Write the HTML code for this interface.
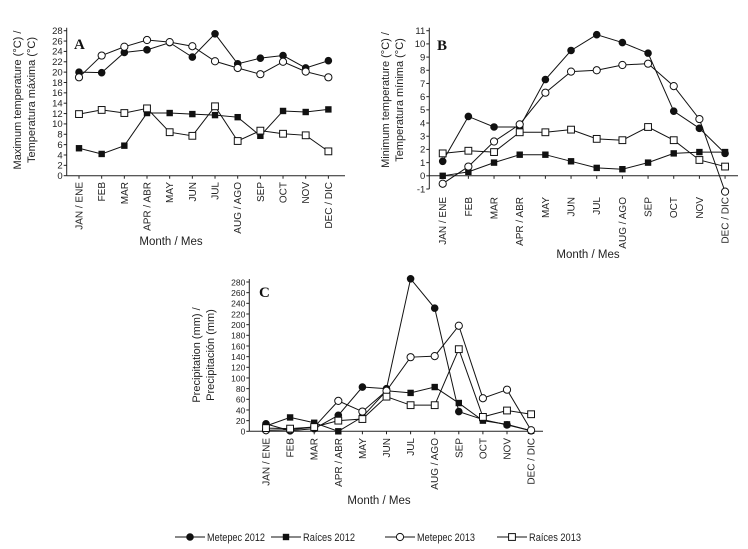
<!DOCTYPE html>
<html><head><meta charset="utf-8"><style>
html,body{margin:0;padding:0;background:#fff;}
svg{display:block;font-family:"Liberation Sans",sans-serif;}
</style></head><body>
<svg id="c" width="748" height="549" viewBox="0 0 748 549"></svg>
<script>
const months=["JAN / ENE","FEB","MAR","APR / ABR","MAY","JUN","JUL","AUG / AGO","SEP","OCT","NOV","DEC / DIC"];
const tmaxMet12=[20,19.9,23.8,24.3,25.7,22.9,27.4,21.6,22.7,23.2,20.8,22.2];
const tmaxRai12=[5.3,4.2,5.8,12.1,12.1,11.9,11.7,11.3,7.7,12.5,12.3,12.8];
const tmaxMet13=[19,23.2,24.9,26.2,25.8,25,22.1,20.8,19.6,22,20.1,19];
const tmaxRai13=[11.9,12.7,12.1,13,8.4,7.7,13.4,6.7,8.7,8.1,7.8,4.7];
const tminMet12=[1.1,4.5,3.7,3.7,7.3,9.5,10.7,10.1,9.3,4.9,3.6,1.7];
const tminRai12=[0,0.3,1,1.6,1.6,1.1,0.6,0.5,1,1.7,1.8,1.8];
const tminMet13=[-0.6,0.7,2.6,3.9,6.3,7.9,8,8.4,8.5,6.8,4.3,-1.2];
const tminRai13=[1.7,1.9,1.8,3.3,3.3,3.5,2.8,2.7,3.7,2.7,1.2,0.7];
const precMet12=[14,1,5,30,83,80,286,231,37,22,12,1];
const precRai12=[10,26,16,0,27,76,72,83,53,20,13,1];
const precMet13=[2,3,8,57,37,76,139,141,198,62,78,2];
const precRai13=[6,5,8,20,23,65,49,49,154,27,39,32];
const ticksA=[0,2,4,6,8,10,12,14,16,18,20,22,24,26,28];
const ticksB=[-1,0,1,2,3,4,5,6,7,8,9,10,11];
const ticksC=[0,20,40,60,80,100,120,140,160,180,200,220,240,260,280];

const svg=document.getElementById('c');
const NS='http://www.w3.org/2000/svg';
function mk(tag,attrs,parent){const e=document.createElementNS(NS,tag);for(const k in attrs)e.setAttribute(k,attrs[k]);(parent||svg).appendChild(e);return e;}
function marker(g,type,x,y){
  let m;
  if(type==='fc'){m=mk('circle',{cx:x,cy:y,r:3.3,fill:'#111',stroke:'#111'},g);}
  else if(type==='oc'){m=mk('circle',{cx:x,cy:y,r:3.6,fill:'#fff',stroke:'#111','stroke-width':1},g);}
  else if(type==='fs'){m=mk('rect',{x:x-3.2,y:y-3.2,width:6.4,height:6.4,fill:'#111'},g);}
  else {m=mk('rect',{x:x-3.4,y:y-3.4,width:6.8,height:6.8,fill:'#fff',stroke:'#111','stroke-width':1},g);}
  
  
}
function panel(p){
  const g=mk('g',{});
  
  
  const ymin=p.ticks[0],ymax=p.ticks[p.ticks.length-1];
  const Y=v=>p.y0+(v-ymin)/(ymax-ymin)*(p.y1-p.y0);
  const X=i=>p.x0+i*p.step;
  const ya=mk('line',{x1:p.ax,y1:p.y1-3,x2:p.ax,y2:p.y0,stroke:'#222','stroke-width':1},g);
  
  const xa=mk('line',{x1:p.ax,y1:Y(p.base),x2:p.axEnd,y2:Y(p.base),stroke:'#222','stroke-width':1},g);
  
  p.ticks.forEach(t=>{
    mk('line',{x1:p.ax-3,y1:Y(t),x2:p.ax,y2:Y(t),stroke:'#222'},g);
    const tl=mk('text',{x:p.ax-4,y:Y(t)+3.3,'font-size':p.tfs||9.5,'text-anchor':'end',fill:'#222'},g);
    tl.textContent=t;
    
  });
  months.forEach((m,i)=>{
    mk('line',{x1:X(i),y1:Y(p.base),x2:X(i),y2:Y(p.base)+3,stroke:'#222'},g);
    const tl=mk('text',{x:0,y:0,'font-size':10,'text-anchor':'end',fill:'#222',transform:`translate(${X(i)+3.5},${p.labelTop}) rotate(-90)`},g);
    tl.textContent=m;
    
  });
  p.series.forEach(s=>{
    const sg=mk('g',{},g);
    
    
    mk('polyline',{points:s.data.map((v,i)=>X(i)+','+Y(v)).join(' '),fill:'none',stroke:'#111','stroke-width':1},sg);
    s.data.forEach((v,i)=>marker(sg,s.type,X(i),Y(v)));
  });
  const lt=mk('text',{x:p.letter[0],y:p.letter[1],'font-size':15,'font-weight':'bold','font-family':'Liberation Serif,serif',fill:'#111'},g);
  lt.textContent=p.letterText;
  
  const t1=mk('text',{x:0,y:0,'font-size':11,'text-anchor':'middle',fill:'#222',transform:`translate(${p.yt[0]},${p.yt[2]}) rotate(-90)`},g);
  t1.textContent=p.ytitle[0];
  
  const t2=mk('text',{x:0,y:0,'font-size':11,'text-anchor':'middle',fill:'#222',transform:`translate(${p.yt[1]},${p.yt[2]}) rotate(-90)`},g);
  t2.textContent=p.ytitle[1];
  
  const xt=mk('text',{x:p.xt[0],y:p.xt[1],'font-size':11.5,'text-anchor':'middle',fill:'#222'},g);
  xt.textContent='Month / Mes';
  
}
panel({name:'panel-a-max-temp',ticks:ticksA,base:0,y0:175.7,y1:30.7,ax:66.7,axEnd:345,x0:79,step:22.67,labelTop:182,
  letter:[74,49],letterText:'A',ytitle:['Maximum temperature (°C) /','Temperatura máxima (°C)'],yt:[21,35,100],xt:[171,245],
  series:[{name:'series-metepec-2012',type:'fc',data:tmaxMet12},{name:'series-raices-2012',type:'fs',data:tmaxRai12},{name:'series-metepec-2013',type:'oc',data:tmaxMet13},{name:'series-raices-2013',type:'os',data:tmaxRai13}]});
panel({name:'panel-b-min-temp',ticks:ticksB,base:0,y0:189,y1:30.7,ax:429.3,axEnd:738,x0:442.7,step:25.67,labelTop:197,
  letter:[437,50],letterText:'B',ytitle:['Minimum temperature (°C) /','Temperatura mínima (°C)'],yt:[389,403,100],xt:[588,258],
  series:[{name:'series-metepec-2012',type:'fc',data:tminMet12},{name:'series-raices-2012',type:'fs',data:tminRai12},{name:'series-metepec-2013',type:'oc',data:tminMet13},{name:'series-raices-2013',type:'os',data:tminRai13}]});
panel({name:'panel-c-precipitation',ticks:ticksC,base:0,y0:431.3,y1:282,ax:249.3,axEnd:543,x0:266,step:24.1,labelTop:438,tfs:8.5,
  letter:[259,297],letterText:'C',ytitle:['Precipitation (mm) /','Precipitación (mm)'],yt:[200,214,355],xt:[379,504],
  series:[{name:'series-metepec-2012',type:'fc',data:precMet12},{name:'series-raices-2012',type:'fs',data:precRai12},{name:'series-metepec-2013',type:'oc',data:precMet13},{name:'series-raices-2013',type:'os',data:precRai13}]});
// legend
const leg=mk('g',{});


[[175,'fc','Metepec 2012',58],[271,'fs','Raíces 2012',52],[385,'oc','Metepec 2013',58],[497,'os','Raíces 2013',52]].forEach(d=>{
  const e=mk('g',{},leg);
  
  
  mk('line',{x1:d[0],y1:537,x2:d[0]+30,y2:537,stroke:'#111'},e);
  marker(e,d[1],d[0]+15,537);
  const t=mk('text',{x:d[0]+32,y:541,'font-size':11,fill:'#222',textLength:d[3],lengthAdjust:'spacingAndGlyphs'},e);
  t.textContent=d[2];
});
</script>
</body></html>
